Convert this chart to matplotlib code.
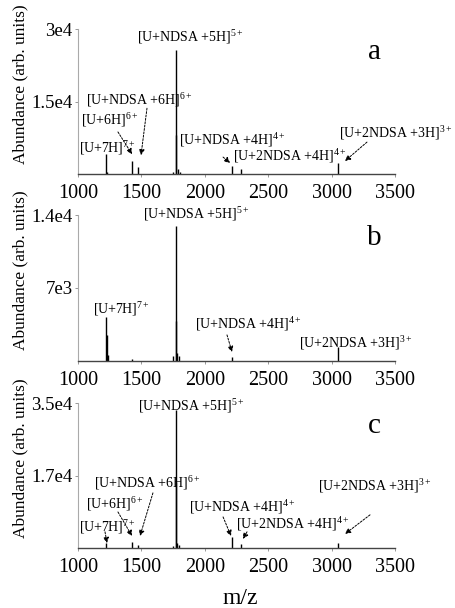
"""Mass spectra of ubiquitin with NDSA adducts, panels a-c."""

import matplotlib

matplotlib.use("Agg")
import matplotlib.pyplot as plt

plt.rcParams["font.family"] = ["Liberation Serif", "DejaVu Serif"]
plt.rcParams["mathtext.fontset"] = "custom"
plt.rcParams["mathtext.rm"] = "Liberation Serif"
plt.rcParams["mathtext.it"] = "Liberation Serif:italic"

# peak lists (m/z, abundance)
mz_a = [1224.5, 1229, 1428.6, 1476.5, 1752, 1771.6, 1775, 1785, 1804, 2214.3, 2286.3, 3048]
ab_a = [4100, 500, 2700, 1400, 500, 25700, 8000, 1000, 400, 1700, 1000, 2300]

mz_b = [1224.5, 1228, 1233, 1428.6, 1752, 1771.6, 1775, 1782, 1795, 2214.3, 3048]
ab_b = [4250, 2500, 600, 200, 500, 12900, 3800, 800, 500, 400, 1340]

mz_c = [1224.5, 1428.6, 1476.5, 1752, 1771.6, 1775, 1782, 1795, 2214.3, 2286.3, 3048]
ab_c = [1100, 1500, 700, 600, 33300, 16000, 1200, 700, 2700, 1000, 1300]

x_ticks = [1000, 1500, 2000, 2500, 3000, 3500]
y_ticks_a, y_labels_a = [15000, 30000], ["1.5e4", "3e4"]
y_ticks_b, y_labels_b = [7000, 14000], ["7e3", "1.4e4"]
y_ticks_c, y_labels_c = [17500, 35000], ["1.7e4", "3.5e4"]

L_5 = r"[U+NDSA +5H]$^{\mathrm{5+}}$"
L_6N = r"[U+NDSA +6H]$^{\mathrm{6+}}$"
L_6 = r"[U+6H]$^{\mathrm{6+}}$"
L_7 = r"[U+7H]$^{\mathrm{7+}}$"
L_4N = r"[U+NDSA +4H]$^{\mathrm{4+}}$"
L_42 = r"[U+2NDSA +4H]$^{\mathrm{4+}}$"
L_32 = r"[U+2NDSA +3H]$^{\mathrm{3+}}$"

# label placement: (text, x, y) in data units
labels_a = [(L_5, 1883, 28300), (L_6N, 1481, 15300), (L_6, 1252, 11200),
            (L_7, 1229, 5400), (L_4N, 2214, 7000), (L_42, 2672, 3700),
            (L_32, 3508, 8500)]
labels_b = [(L_5, 1931, 14100), (L_7, 1339, 5000), (L_4N, 2341, 3550),
            (L_32, 3192, 1730)]
labels_c = [(L_5, 1891, 34300), (L_6N, 1544, 15700), (L_6, 1292, 10600),
            (L_7, 1229, 5100), (L_4N, 2293, 9900), (L_42, 2696, 5800),
            (L_32, 3342, 15000)]

# arrows: (tail, head) in data units
arrows_a = [((1315, 8700), (1426, 4100)), ((1544, 13600), (1497, 3900)),
            ((2144, 3500), (2199, 2300)), ((3279, 6600), (3106, 2700))]
arrows_b = [((2175, 2500), (2215, 860))]
arrows_c = [((1213, 3900), (1229, 1200)), ((1315, 8700), (1426, 2900)),
            ((1591, 13300), (1489, 2900)), ((2144, 7500), (2207, 2900)),
            ((2333, 3900), (2301, 2200)), ((3303, 8000), (3106, 3400))]

W, H = 456, 608
fig = plt.figure(figsize=(W / 100, H / 100), dpi=100)

panels = [
    ("a", mz_a, ab_a, 30000, y_ticks_a, y_labels_a, labels_a, arrows_a, 29, 174),
    ("b", mz_b, ab_b, 14000, y_ticks_b, y_labels_b, labels_b, arrows_b, 215, 361),
    ("c", mz_c, ab_c, 35000, y_ticks_c, y_labels_c, labels_c, arrows_c, 403, 548),
]

for letter, mz, ab, ymax, yt, yl, labs, arrs, top, bot in panels:
    ax = fig.add_axes([78 / W, (H - bot) / H, 317 / W, (bot - top) / H])
    ax.vlines(mz, 0, ab, color="black", lw=1.0)
    ax.set_xlim(1000, 3500)
    ax.set_ylim(0, ymax)
    ax.set_xticks(x_ticks)
    ax.set_xticklabels([str(t) for t in x_ticks], fontsize=14.5)
    ax.set_yticks(yt)
    ax.set_yticklabels(yl, fontsize=13.5)
    ax.tick_params(axis="both", length=2, width=0.6, color="#888888", pad=2)
    ax.tick_params(axis="x", pad=5)
    for s in ("top", "right"):
        ax.spines[s].set_visible(False)
    ax.spines["left"].set_color("#aaaaaa")
    ax.spines["left"].set_linewidth(0.8)
    ax.spines["bottom"].set_color("#444444")
    ax.spines["bottom"].set_linewidth(1.0)
    ax.set_ylabel("Abundance (arb. units)", fontsize=12.5)
    ax.yaxis.set_label_coords(-0.158, 0.62)

    for txt, x, y in labs:
        ax.text(x, y, txt, fontsize=10, ha="center", va="center", clip_on=False)
    for tail, head in arrs:
        ax.annotate("", xy=head, xytext=tail,
                    arrowprops=dict(arrowstyle="-|>", linestyle=(0, (2, 1.5)),
                                    lw=0.7, color="black", mutation_scale=8,
                                    shrinkA=0, shrinkB=0))
    ax.text(0.935, 0.84, letter, transform=ax.transAxes, fontsize=21,
            ha="center", va="center")

fig.text(240 / W, 1 - 598 / H, "m/z", fontsize=17, ha="center", va="center")

fig.savefig("out.png", dpi=100)
